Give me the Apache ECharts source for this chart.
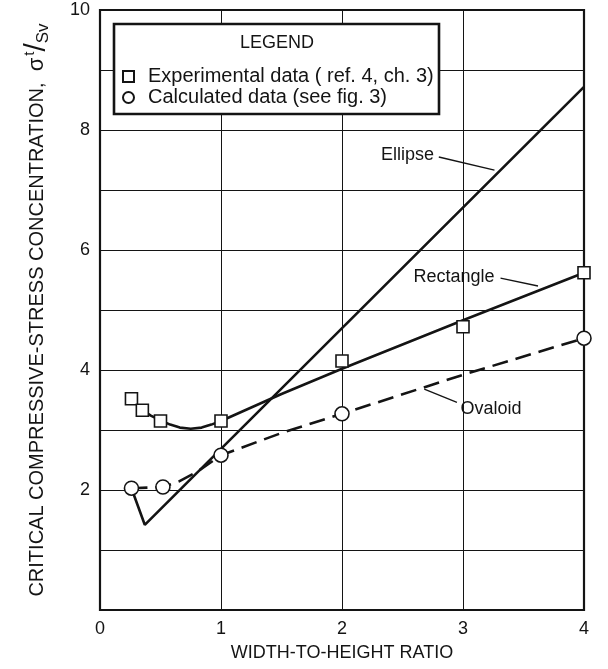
<!DOCTYPE html>
<html>
<head>
<meta charset="utf-8">
<script src="https://cdn.jsdelivr.net/npm/echarts@6/dist/echarts.min.js"></script>
<style>html,body{margin:0;padding:0;background:#fff;}#c{width:608px;height:669px;}</style>
</head>
<body>
<div id="c"></div>
<script>
// ---- data ----
const xTicks = [0, 1, 2, 3, 4];
const yTickLabels = [2, 4, 6, 8, 10];
const expX = [0.26, 0.35, 0.5, 1.0, 2.0, 3.0, 4.0];
const expY = [3.52, 3.33, 3.15, 3.15, 4.15, 4.72, 5.62];
const calcX = [0.26, 0.52, 1.0, 2.0, 4.0];
const calcY = [2.03, 2.05, 2.58, 3.27, 4.53];
const ellipseX = [0.26, 0.37, 4.0];
const ellipseY = [2.03, 1.42, 8.72];
const rectX = [0.35, 0.42, 0.5, 0.58, 0.66, 0.75, 0.84, 0.92, 1.0, 1.5, 2.0, 3.0, 4.0];
const rectY = [3.33, 3.24, 3.16, 3.09, 3.04, 3.02, 3.04, 3.09, 3.15, 3.6, 4.02, 4.83, 5.62];
const ovalX = [0.26, 0.52, 0.65, 0.8, 1.0, 1.5, 2.0, 3.0, 4.0];
const ovalY = [2.03, 2.05, 2.14, 2.3, 2.58, 2.95, 3.27, 3.92, 4.53];
const curveNames = ['Ellipse', 'Rectangle', 'Ovaloid'];
const labelAt = [[2.76, 7.58], [3.26, 5.55], [2.98, 3.35]];
const labelSide = ['left', 'left', 'right'];
const arrowFrom = [[2.8, 7.55], [3.31, 5.53], [2.95, 3.46]];
const arrowTo = [[3.26, 7.33], [3.62, 5.4], [2.68, 3.68]];
const legendNames = ['Experimental data ( ref. 4, ch. 3)', 'Calculated data (see fig. 3)'];

const zip = (a, b) => a.map((v, i) => [v, b[i]]);
const INK = '#141414';
const FONT = '"Liberation Sans", Arial, sans-serif';

const chart = echarts.init(document.getElementById('c'), null, {renderer: 'canvas'});
chart.setOption({
  backgroundColor: '#fff',
  animation: false,
  textStyle: {fontFamily: FONT, color: INK},
  grid: {left: 100, right: 24, top: 10, bottom: 59, show: true, borderColor: INK, borderWidth: 2.2, backgroundColor: 'transparent'},
  xAxis: {
    type: 'value', min: xTicks[0], max: xTicks[xTicks.length - 1], interval: 1,
    name: 'WIDTH-TO-HEIGHT RATIO', nameLocation: 'middle', nameGap: 34,
    nameTextStyle: {fontSize: 18, color: INK, fontFamily: FONT},
    axisLine: {show: false}, axisTick: {show: false},
    axisLabel: {fontSize: 18, color: INK, margin: 10, fontFamily: FONT, formatter: v => xTicks.includes(v) ? String(v) : ''},
    splitLine: {show: true, lineStyle: {color: INK, width: 1}}
  },
  yAxis: {
    type: 'value', min: 0, max: 10, interval: 1,
    name: '{m|CRITICAL COMPRESSIVE-STRESS CONCENTRATION,  }{s|σ}{sup|t}{sl|/}{sub|Sv}',
    nameLocation: 'middle', nameRotate: 90, nameGap: 48,
    nameTextStyle: {
      fontSize: 20, color: INK, fontFamily: FONT,
      rich: {
        m: {fontSize: 20, fontFamily: FONT, color: INK},
        s: {fontSize: 22, fontFamily: FONT, color: INK},
        sup: {fontSize: 15, fontFamily: FONT, color: INK, verticalAlign: 'top', padding: [0, 0, 12, 2]},
        sl: {fontSize: 30, fontFamily: FONT, color: INK},
        sub: {fontSize: 17, fontFamily: FONT, color: INK, verticalAlign: 'bottom', padding: [10, 0, 0, 0]}
      }
    },
    axisLine: {show: false}, axisTick: {show: false},
    axisLabel: {fontSize: 18, color: INK, margin: 10, fontFamily: FONT, formatter: v => yTickLabels.includes(v) ? String(v) : ''},
    splitLine: {show: true, lineStyle: {color: INK, width: 1}}
  },
  legend: {
    orient: 'vertical', left: 122, top: 66, padding: 0, itemGap: 0, itemWidth: 11, itemHeight: 11,
    data: [
      {name: legendNames[0], icon: 'rect'},
      {name: legendNames[1], icon: 'circle'}
    ],
    textStyle: {fontSize: 20, lineHeight: 21, color: INK, fontFamily: FONT, padding: [0, 0, 0, 9]},
    selectedMode: false, z: 6
  },
  graphic: [
    {type: 'rect', z: 5, shape: {x: 114, y: 24, width: 325, height: 90}, style: {fill: '#fff', stroke: INK, lineWidth: 2.6}},
    {type: 'text', z: 6, left: 240, top: 34, style: {text: 'LEGEND', fontSize: 18, fill: INK, fontFamily: FONT}}
  ],
  series: [
    {name: 'Ellipse', type: 'line', data: zip(ellipseX, ellipseY), symbol: 'none', lineStyle: {color: INK, width: 2.6}, z: 3},
    {name: 'Rectangle', type: 'line', data: zip(rectX, rectY), symbol: 'none', lineStyle: {color: INK, width: 2.6}, z: 3},
    {name: 'Ovaloid', type: 'line', data: zip(ovalX, ovalY), symbol: 'none', lineStyle: {color: INK, width: 2.6, type: [16, 8]}, z: 3},
    {name: legendNames[0], type: 'scatter', data: zip(expX, expY), symbol: 'rect', symbolSize: 12,
      itemStyle: {color: '#fff', borderColor: INK, borderWidth: 1.6, opacity: 1}, z: 4},
    {name: legendNames[1], type: 'scatter', data: zip(calcX, calcY), symbol: 'circle', symbolSize: 14,
      itemStyle: {color: '#fff', borderColor: INK, borderWidth: 1.6, opacity: 1}, z: 4},
    {name: 'annotations', type: 'scatter', symbolSize: 0, silent: true, z: 4,
      itemStyle: {opacity: 1},
      data: labelAt.map((p, i) => ({value: p, label: {formatter: curveNames[i], position: labelSide[i]}})),
      label: {show: true, distance: 0, fontSize: 18, color: INK, opacity: 1, fontFamily: FONT},
      markLine: {
        silent: true, symbol: ['none', 'arrow'], symbolSize: [0, 9], animation: false,
        lineStyle: {color: INK, width: 1.3, type: 'solid', opacity: 1}, label: {show: false},
        data: arrowFrom.map((p, i) => [{coord: p}, {coord: arrowTo[i]}])
      }
    }
  ]
});
</script>
</body>
</html>
